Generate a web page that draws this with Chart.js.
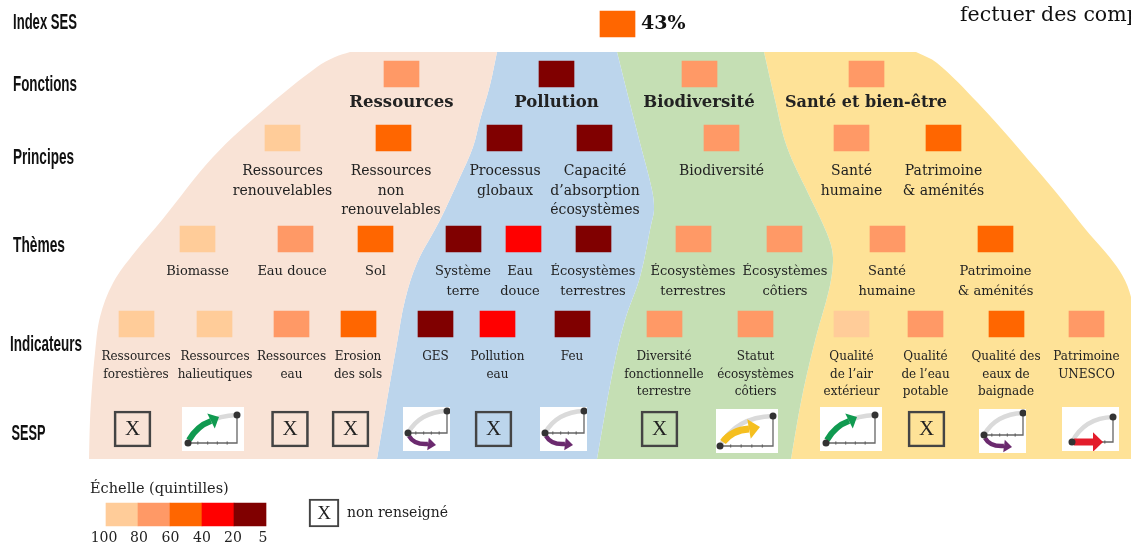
<!DOCTYPE html>
<html lang="fr">
<head>
<meta charset="utf-8">
<title>Index SES</title>
<script src="https://cdn.jsdelivr.net/npm/chart.js@4"></script>
<style>
    html, body { margin: 0; padding: 0; background: #fff; overflow: hidden; }
    #wrap { position: relative; width: 1131px; height: 545px; }
</style>
</head>
<body>
<div id="wrap"><canvas id="sesChart"></canvas></div>
<script>
// Data. Classes go from 1 (100-80) to 5 (20-5)
const rowTitles = ['Index SES', 'Fonctions', 'Principes', 'Thèmes', 'Indicateurs', 'SESP'];
const indexScore = 43;
const indexClass = [3];

const fonctions = ['Ressources', 'Pollution', 'Biodiversité', 'Santé et bien-être'];
const fonctionsClass = [2, 5, 2, 2];

const principes = ['Ressources\nrenouvelables', 'Ressources\nnon\nrenouvelables', 'Processus\nglobaux', 'Capacité\nd’absorption\nécosystèmes', 'Biodiversité', 'Santé\nhumaine', 'Patrimoine\n& aménités'];
const principesClass = [1, 3, 5, 5, 2, 2, 3];

const themes = ['Biomasse', 'Eau douce', 'Sol', 'Système\nterre', 'Eau\ndouce', 'Écosystèmes\nterrestres', 'Écosystèmes\nterrestres', 'Écosystèmes\ncôtiers', 'Santé\nhumaine', 'Patrimoine\n& aménités'];
const themesClass = [1, 2, 3, 5, 4, 5, 2, 2, 2, 3];

const indicateurs = ['Ressources\nforestières', 'Ressources\nhalieutiques', 'Ressources\neau', 'Erosion\ndes sols', 'GES', 'Pollution\neau', 'Feu', 'Diversité\nfonctionnelle\nterrestre', 'Statut\nécosystèmes\ncôtiers', 'Qualité\nde l’air\nextérieur', 'Qualité\nde l’eau\npotable', 'Qualité des\neaux de\nbaignade', 'Patrimoine\nUNESCO'];
const indicateursClass = [1, 1, 2, 3, 5, 4, 5, 2, 2, 1, 2, 3, 2];
const sespTrend = ['X', 'vert', 'X', 'X', 'violet', 'X', 'violet', 'X', 'jaune', 'vert', 'X', 'violet', 'rouge'];

const scaleTicks = ['100', '80', '60', '40', '20', '5'];
const scaleClasses = [1, 2, 3, 4, 5];

// Colours
const classColors = ['#FFCC99', '#FF9966', '#FF6600', '#FF0000', '#800000'];
const bandColors = ['#F9E3D6', '#BCD5EC', '#C5DFB4', '#FEE297'];

// Layout of the diagram, the axes run in page pixels
const cellW = 35, cellH = 26;
const indexCellX = [617.5], indexCellY = 24;
const fonctionsCellX = [401.5, 556.5, 699.5, 866.5], fonctionsCellY = 74;
const principesCellX = [282.5, 393.5, 504.5, 594.5, 721.5, 851.5, 943.5], principesCellY = 138;
const themesCellX = [197.5, 295.5, 375.5, 463.5, 523.5, 593.5, 693.5, 784.5, 887.5, 995.5], themesCellY = 239;
const indicateursCellX = [136.5, 214.5, 291.5, 358.5, 435.5, 497.5, 572.5, 664.5, 755.5, 851.5, 925.5, 1006.5, 1086.5], indicateursCellY = 324;

const fonctionsTextX = [401.5, 556.5, 699, 866];
const principesTextX = [282.5, 391, 505, 595, 721.5, 851.5, 943.5];
const themesTextX = [197.5, 292, 375.5, 463, 520, 593, 693, 785, 887, 995.5];
const indicateursTextX = [136, 215, 291.5, 358, 435.5, 497.5, 572, 664, 755.5, 851.5, 925.5, 1006, 1086.5];
const sespX = [132.5, 213, 290, 350.5, 426.5, 493.5, 563.5, 659.5, 747, 851, 926.5, 1002.5, 1090.5];
const sespY = [429, 429, 429, 429, 429, 429, 429, 429, 431, 429, 429, 431, 429];
const scaleCellX = [122, 154, 186, 218, 250];
const scaleTickX = [104, 139, 170.5, 202, 233, 263];

const outerLeft = [[350, 52], [335, 57], [317, 67], [267, 107], [213, 157], [162, 220], [135, 252], [113, 283], [100, 317], [95, 353], [92, 387], [90, 420], [89, 459]];
const pollutionLeft = [[497, 52], [490, 85], [480, 120], [473, 147], [460, 177], [440, 220], [417, 263], [405, 300], [397, 343], [387, 400], [377, 459]];
const biodivLeft = [[617, 52], [629, 100], [640, 143], [652, 190], [654, 210], [651, 225], [640, 277], [625, 320], [613, 370], [597, 459]];
const santeLeft = [[764, 52], [775, 100], [787, 147], [808, 193], [822, 222], [831, 245], [833, 262], [829, 290], [816, 337], [802, 397], [791, 459]];
const outerRight = [[916, 52], [937, 63], [978, 103], [1020, 150], [1078, 220], [1131, 297], [1131, 459]];

// corner points are doubled so the tension only rounds the long edges
function polygon(left, right) {
    const a = left[0], b = left[left.length - 1];
    const c = right[right.length - 1], d = right[0];
    return [a].concat(left, [b, c], right.slice().reverse(), [d]).map(p => ({x: p[0], y: p[1]}));
}

function bandDataset(left, right, color) {
    return {
        type: 'line',
        data: polygon(left, right),
        backgroundColor: color,
        borderWidth: 0,
        pointRadius: 0,
        tension: 0.35,
        fill: 'shape',
        order: 10,
    };
}

function cellDataset(xs, cy, classes, w, h) {
    return {
        type: 'bar',
        data: xs.map(x => ({x: x, y: [cy - h / 2, cy + h / 2]})),
        backgroundColor: classes.map(c => classColors[c - 1]),
        barThickness: w,
        grouped: false,
        order: 2,
    };
}

// The small trend pictures of the SESP row
const trendIcons = {
    vert: {w: 62, start: [6, 36], end: [55, 8], color: '#109A50', from: [7, 33], ctrl: [15, 19], to: [29, 14], head: [37, 10], lineW: 6},
    violet: {w: 47, start: [5, 26], end: [44, 4], color: '#6B2A6E', from: [6, 29], ctrl: [11, 38], to: [25, 37], head: [33, 38], lineW: 4.5},
    jaune: {w: 62, start: [4, 37], end: [57, 7], color: '#F5BF1F', from: [7, 33], ctrl: [16, 21], to: [33, 20], head: [44, 18], lineW: 7},
    rouge: {w: 57, start: [10, 35], end: [51, 10], color: '#E31C2B', from: [12, 35], ctrl: [20, 35], to: [31, 35], head: [41, 35], lineW: 7},
};

function makeIcon(t) {
    const c = document.createElement('canvas');
    c.width = t.w;
    c.height = 44;
    const g = c.getContext('2d');
    g.fillStyle = '#fff';
    g.fillRect(0, 0, t.w, 44);
    g.filter = 'blur(0.6px)';
    // grey arc
    g.strokeStyle = '#DADADA';
    g.lineWidth = 4.5;
    g.beginPath();
    g.moveTo(t.start[0], t.start[1]);
    g.quadraticCurveTo(t.start[0] + (t.end[0] - t.start[0]) * 0.3, t.end[1] + 1, t.end[0], t.end[1]);
    g.stroke();
    // axes
    g.strokeStyle = '#666';
    g.lineWidth = 1.3;
    g.beginPath();
    g.moveTo(t.start[0], t.start[1]);
    g.lineTo(t.end[0], t.start[1]);
    g.lineTo(t.end[0], t.end[1]);
    g.stroke();
    for (let i = 1; i < 5; i++) {
        const tx = t.start[0] + (t.end[0] - t.start[0]) * i / 5;
        g.beginPath();
        g.moveTo(tx, t.start[1] - 1.5);
        g.lineTo(tx, t.start[1] + 1.5);
        g.stroke();
    }
    // arrow
    g.strokeStyle = t.color;
    g.fillStyle = t.color;
    g.lineWidth = t.lineW;
    g.beginPath();
    g.moveTo(t.from[0], t.from[1]);
    g.quadraticCurveTo(t.ctrl[0], t.ctrl[1], t.to[0], t.to[1]);
    g.stroke();
    const a = Math.atan2(t.head[1] - t.to[1], t.head[0] - t.to[0]);
    const side = t.lineW * 1.4;
    g.beginPath();
    g.moveTo(t.head[0], t.head[1]);
    g.lineTo(t.to[0] - Math.sin(a) * side, t.to[1] + Math.cos(a) * side);
    g.lineTo(t.to[0] + Math.sin(a) * side, t.to[1] - Math.cos(a) * side);
    g.closePath();
    g.fill();
    // end dots
    g.fillStyle = '#333';
    [t.start, t.end].forEach(p => {
        g.beginPath();
        g.arc(p[0], p[1], 3.5, 0, Math.PI * 2);
        g.fill();
    });
    return c;
}

const icons = {};
Object.keys(trendIcons).forEach(k => { icons[k] = makeIcon(trendIcons[k]); });

const boxIdx = sespTrend.map((t, i) => t === 'X' ? i : -1).filter(i => i >= 0);
const iconIdx = sespTrend.map((t, i) => t !== 'X' ? i : -1).filter(i => i >= 0);

const serif = '"DejaVu Serif", serif';
const textColor = '#222';

// All the text of the diagram, drawn through the scales
const textPlugin = {
    id: 'diagramText',
    afterDatasetsDraw(chart) {
        const ctx = chart.ctx;
        const sx = chart.scales.x, sy = chart.scales.y;

        function put(text, x, y, font, align, maxW, color) {
            ctx.font = font;
            ctx.textAlign = align || 'center';
            ctx.textBaseline = 'middle';
            ctx.fillStyle = color || textColor;
            if (maxW) ctx.fillText(text, sx.getPixelForValue(x), sy.getPixelForValue(y), maxW);
            else ctx.fillText(text, sx.getPixelForValue(x), sy.getPixelForValue(y));
        }

        function row(names, xs, ys, font, maxW) {
            names.forEach((name, i) => {
                name.split('\n').forEach((line, j) => put(line, xs[i], ys[j], font, 'center', maxW));
            });
        }

        ctx.save();
        const heads = [[13, 23, 64], [13, 85, 64], [13, 158, 61], [13, 246, 52], [10, 345, 72], [11.5, 434, 34]];
        rowTitles.forEach((t, i) => {
            put(t, heads[i][0], heads[i][1], 'bold 22px "Liberation Sans Narrow", "Liberation Sans", sans-serif', 'left', heads[i][2], '#111');
        });

        put(indexScore + '%', 641, 24, 'bold 19px ' + serif, 'left', 49, '#111');
        put('fectuer des comp', 960, 16, '20.5px ' + serif, 'left', null, '#111');

        row(fonctions, fonctionsTextX, [103], 'bold 16.5px ' + serif, 162);
        row(principes, principesTextX, [171, 191, 210], '14px ' + serif);
        row(themes, themesTextX, [271.5, 291.5], '13px ' + serif);
        row(indicateurs, indicateursTextX, [357, 375, 392], '12px ' + serif);

        boxIdx.forEach(i => put('X', sespX[i], sespY[i], '21px "Liberation Serif", serif'));
        put('X', 324, 514, '19px "Liberation Serif", serif');

        put('Échelle (quintilles)', 90, 489, '14.5px ' + serif, 'left');
        scaleTicks.forEach((t, i) => put(t, scaleTickX[i], 538, '14px ' + serif));
        put('non renseigné', 347, 513, '14px ' + serif, 'left');
        ctx.restore();
    },
};

new Chart(document.getElementById('sesChart'), {
    type: 'bar',
    data: {
        datasets: [
            bandDataset(outerLeft, pollutionLeft, bandColors[0]),
            bandDataset(pollutionLeft, biodivLeft, bandColors[1]),
            bandDataset(biodivLeft, santeLeft, bandColors[2]),
            bandDataset(santeLeft, outerRight, bandColors[3]),
            cellDataset(indexCellX, indexCellY, indexClass, cellW, cellH),
            cellDataset(fonctionsCellX, fonctionsCellY, fonctionsClass, cellW, cellH),
            cellDataset(principesCellX, principesCellY, principesClass, cellW, cellH),
            cellDataset(themesCellX, themesCellY, themesClass, cellW, cellH),
            cellDataset(indicateursCellX, indicateursCellY, indicateursClass, cellW, cellH),
            cellDataset(scaleCellX, 514.5, scaleClasses, 32, 23),
            {
                type: 'bar',
                data: boxIdx.map(i => ({x: sespX[i], y: [sespY[i] - 18, sespY[i] + 18]})),
                backgroundColor: 'transparent',
                borderColor: '#444',
                borderWidth: 2,
                borderSkipped: false,
                barThickness: 37,
                grouped: false,
                order: 2,
            },
            {
                type: 'bar',
                data: [{x: 324, y: [499, 527]}],
                backgroundColor: 'transparent',
                borderColor: '#444',
                borderWidth: 1.5,
                borderSkipped: false,
                barThickness: 30,
                grouped: false,
                order: 2,
            },
            {
                type: 'scatter',
                data: iconIdx.map(i => ({x: sespX[i], y: sespY[i]})),
                pointStyle: iconIdx.map(i => icons[sespTrend[i]]),
                pointRadius: 10,
                order: 1,
            },
        ],
    },
    options: {
        responsive: true,
        maintainAspectRatio: false,
        animation: false,
        layout: { padding: 0, autoPadding: false },
        events: [],
        plugins: {
            legend: { display: false },
            tooltip: { enabled: false },
        },
        scales: {
            x: { type: 'linear', min: 0, max: 1131, offset: false, display: false },
            y: { type: 'linear', min: 0, max: 545, reverse: true, display: false },
        },
    },
    plugins: [textPlugin],
});
</script>
</body>
</html>
